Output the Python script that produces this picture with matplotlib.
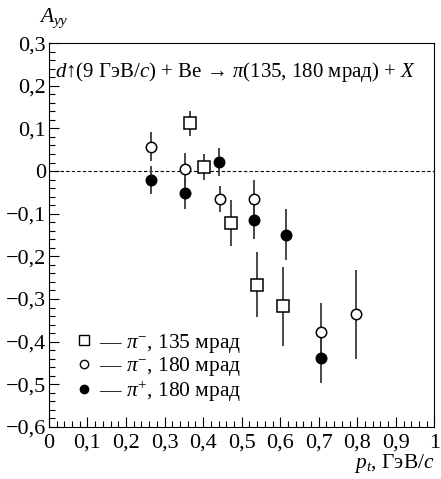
import matplotlib
matplotlib.use('Agg')
import matplotlib.pyplot as plt
from matplotlib.lines import Line2D
from matplotlib.ticker import MultipleLocator, FuncFormatter

plt.rcParams['font.family'] = ['Liberation Serif', 'DejaVu Serif']
plt.rcParams['mathtext.fontset'] = 'custom'
plt.rcParams['mathtext.rm'] = 'Liberation Serif'
plt.rcParams['mathtext.it'] = 'Liberation Serif:italic'
plt.rcParams['axes.unicode_minus'] = True

# pi-, 135 mrad (squares)
pt_sq = [0.365, 0.403, 0.472, 0.539, 0.606]
a_sq = [0.112, 0.010, -0.122, -0.266, -0.317]
e_sq = [0.029, 0.030, 0.054, 0.077, 0.093]

# pi-, 180 mrad (open circles)
pt_oc = [0.265, 0.353, 0.443, 0.531, 0.706, 0.796]
a_oc = [0.057, 0.005, -0.066, -0.066, -0.378, -0.336]
e_oc = [0.034, 0.038, 0.030, 0.046, 0.068, 0.104]

# pi+, 180 mrad (filled circles)
pt_fc = [0.265, 0.353, 0.441, 0.531, 0.616, 0.706]
a_fc = [-0.021, -0.052, 0.022, -0.114, -0.149, -0.438]
e_fc = [0.032, 0.036, 0.033, 0.045, 0.060, 0.058]

labels = [r'— $\pi^{-}$, 135 мрад', r'— $\pi^{-}$, 180 мрад', r'— $\pi^{+}$, 180 мрад']

fs = 15.5
fig = plt.figure(figsize=(4.41, 4.79), dpi=100)
ax = fig.add_axes([0.111, 0.1086, 0.874, 0.8014])

ax.axhline(0, color='black', lw=0.8, ls=(0, (3, 2)), zorder=1)

ecol = '#3a3a3a'
ax.errorbar(pt_sq, a_sq, yerr=e_sq, fmt='s', ms=8, mfc='white', mec='black',
            mew=1.1, ecolor=ecol, elinewidth=1.3, capsize=0, zorder=3)
ax.errorbar(pt_oc, a_oc, yerr=e_oc, fmt='o', ms=7.5, mfc='white', mec='black',
            mew=1.1, ecolor=ecol, elinewidth=1.3, capsize=0, zorder=3)
ax.errorbar(pt_fc, a_fc, yerr=e_fc, fmt='o', ms=7.5, mfc='black', mec='black',
            mew=1.1, ecolor=ecol, elinewidth=1.3, capsize=0, zorder=3)

ax.set_xlim(0, 1)
ax.set_ylim(-0.6, 0.3)
ax.xaxis.set_major_locator(MultipleLocator(0.1))
ax.xaxis.set_minor_locator(MultipleLocator(0.02))
ax.yaxis.set_major_locator(MultipleLocator(0.1))
ax.yaxis.set_minor_locator(MultipleLocator(0.02))

def komma(v, pos):
    if abs(v) < 1e-9:
        return '0'
    if abs(v - 1) < 1e-9:
        return '1'
    return ('%.1f' % v).replace('.', ',').replace('-', '\u2212')

ax.xaxis.set_major_formatter(FuncFormatter(komma))
ax.yaxis.set_major_formatter(FuncFormatter(komma))
ax.tick_params(which='both', direction='in', top=False, right=False,
               labelsize=16, width=0.8)
ax.tick_params(which='major', length=7)
ax.tick_params(which='minor', length=4.5)
ax.tick_params(axis='x', pad=5)
ax.tick_params(axis='y', pad=2)
for s in ax.spines.values():
    s.set_linewidth(0.8)

ax.text(0.015, 0.233, r'$d$↑(9 ГэВ/$c$) + Be → $\pi$(135, 180 мрад) + $X$',
        fontsize=15, va='center', ha='left')

ax.text(-0.025, 1.035, r'$A_{yy}$', transform=ax.transAxes, fontsize=fs,
        ha='left', va='bottom')
ax.text(1.0, -0.108, r'$p_t$, ГэВ/$c$', transform=ax.transAxes, fontsize=fs,
        ha='right', va='baseline')

handles = [
    Line2D([], [], ls='none', marker='s', ms=6.5, mfc='white', mec='black', mew=1.0),
    Line2D([], [], ls='none', marker='o', ms=6, mfc='white', mec='black', mew=1.0),
    Line2D([], [], ls='none', marker='o', ms=6, mfc='black', mec='black', mew=1.0),
]
ax.legend(handles, labels, loc='lower left', bbox_to_anchor=(0.075, 0.06),
          frameon=False, fontsize=fs, handlelength=0.6, handletextpad=0.4,
          labelspacing=0.02, borderaxespad=0, borderpad=0)

fig.savefig('out.png', dpi=100)
